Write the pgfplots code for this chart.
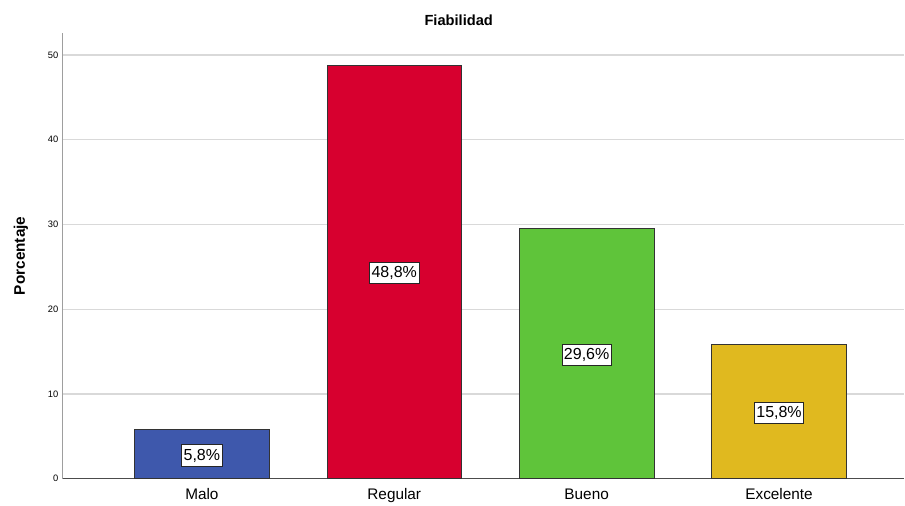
\documentclass[border=0pt]{standalone}
\usepackage{pgfplots}
\pgfplotsset{compat=1.18}
\usepackage{fontspec}
\setmainfont{Liberation Sans}
\definecolor{cMalo}{HTML}{3E58AC}
\definecolor{cReg}{HTML}{D7002F}
\definecolor{cBue}{HTML}{5FC43A}
\definecolor{cExc}{HTML}{E0B91F}
\definecolor{gridc}{HTML}{D9D9D9}
\definecolor{axc}{HTML}{9E9E9E}
\begin{document}
\begin{tikzpicture}
\begin{axis}[
  name=ax,
  scale only axis,
  width=631.5pt, height=334.5pt,
  xmin=-0.722, xmax=3.652,
  ymin=0, ymax=52.6,
  ybar, bar width=0.7,
  axis x line*=bottom, axis y line*=left,
  x axis line style={draw=black!70, line width=0.8pt, -},
  y axis line style={draw=axc, line width=0.8pt, -},
  xtick={0,1,2,3},
  xticklabels={Malo,Regular,Bueno,Excelente},
  ytick={0,10,20,30,40,50},
  major tick length=0pt,
  ymajorgrids, grid style={gridc, line width=0.8pt},
  every x tick label/.style={font=\fontsize{11.5}{13}\selectfont, anchor=north, text height=1.6ex, text depth=0.3ex, yshift=-3.5pt},
  every y tick label/.style={font=\fontsize{7}{8}\selectfont},
  /pgf/number format/assume math mode=true,
  ylabel={\textbf{Porcentaje}},
  ylabel style={font=\fontsize{11.5}{13}\selectfont, yshift=8pt},
  clip=false,
]
\addplot[bar shift=0pt, fill=cMalo, draw=black!80, line width=0.5pt] coordinates {(0,5.8)};
\addplot[bar shift=0pt, fill=cReg, draw=black!80, line width=0.5pt] coordinates {(1,48.8)};
\addplot[bar shift=0pt, fill=cBue, draw=black!80, line width=0.5pt] coordinates {(2,29.6)};
\addplot[bar shift=0pt, fill=cExc, draw=black!80, line width=0.5pt] coordinates {(3,15.8)};
\addplot[draw=none, fill=none, mark=none, bar shift=0pt, bar width=0, nodes near coords, point meta=explicit symbolic,
  every node near coord/.style={anchor=center, fill=white, draw=black!85, line width=0.6pt, inner xsep=1.5pt, inner ysep=3pt, font=\fontsize{12}{14}\selectfont, yshift=-1pt}]
  coordinates {(0,2.9)[5,8\%] (1,24.4)[48,8\%] (2,14.8)[29,6\%] (3,7.9)[15,8\%]};
\end{axis}
\path[use as bounding box] ([xshift=-47.25pt,yshift=-20.25pt]ax.south west) rectangle ([yshift=24.75pt]ax.north east);
\node[font=\bfseries\fontsize{11}{13}\selectfont] at ([xshift=344.25pt,yshift=-15pt]current bounding box.north west) {Fiabilidad};
\end{tikzpicture}
\end{document}
